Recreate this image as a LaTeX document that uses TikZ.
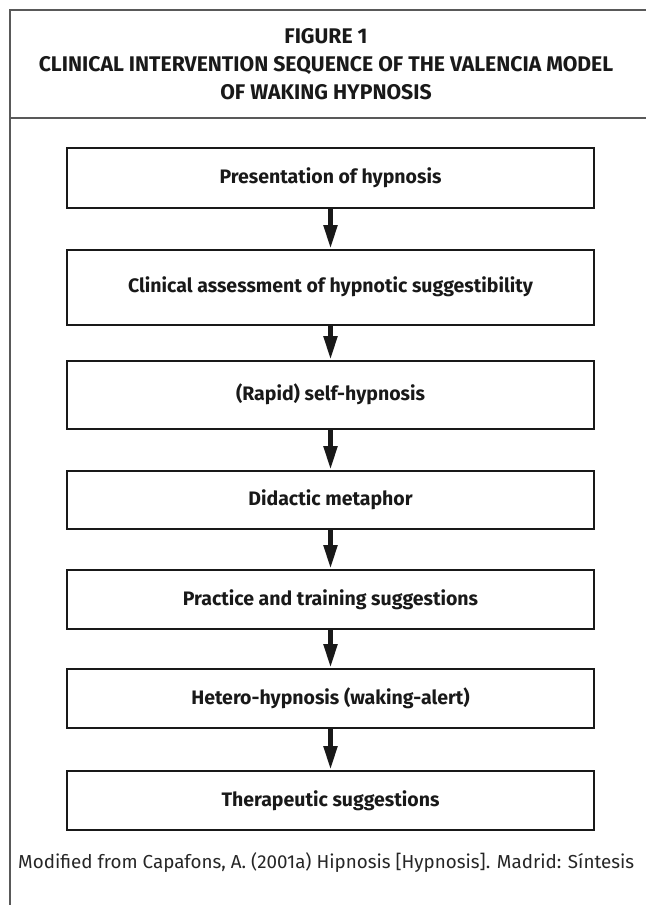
\documentclass[tikz,border=0pt]{standalone}
\usepackage{fontspec}
\setmainfont{Fira Sans}
\usetikzlibrary{arrows.meta}
\begin{document}
\begin{tikzpicture}[x=1pt,y=-1pt,
  stepbox/.style={draw=black!90,line width=1.5pt,minimum width=527pt,inner sep=0pt,
    font=\fontsize{19.5}{22}\selectfont\bfseries,anchor=north,text=black!90},
  flow/.style={draw=black!90,line width=5pt,-{Triangle[width=13pt,length=24pt]}},
  frameline/.style={draw=black!65,line width=1.6pt},
  titletext/.style={font=\fontsize{21.2}{28}\selectfont\bfseries,align=center,text=black!90},
  foottext/.style={font=\fontsize{18.8}{22}\selectfont,text=black!85}]
\useasboundingbox (0,0) rectangle (646,905);
% frame
\draw[frameline] (10,905) -- (10,10) -- (646,10);
\draw[frameline] (10,118) -- (646,118);
% title
\node[titletext] (title) at (326,64) {FIGURE 1\\CLINICAL INTERVENTION SEQUENCE OF THE VALENCIA MODEL\\OF WAKING HYPNOSIS};
% boxes
\node[stepbox,minimum height=60pt] (b1) at (330.5,147) {Presentation of hypnosis};
\node[stepbox,minimum height=75pt] (b2) at (330.5,249) {Clinical assessment of hypnotic suggestibility};
\node[stepbox,minimum height=68pt] (b3) at (330.5,360) {(Rapid) self-hypnosis};
\node[stepbox,minimum height=58pt] (b4) at (330.5,470) {Didactic metaphor};
\node[stepbox,minimum height=59pt] (b5) at (330.5,569) {Practice and training suggestions};
\node[stepbox,minimum height=59pt] (b6) at (330.5,668) {Hetero-hypnosis (waking-alert)};
\node[stepbox,minimum height=59pt] (b7) at (330.5,770) {Therapeutic suggestions};
% arrows
\draw[flow] (b1.south) -- (b2.north);
\draw[flow] (b2.south) -- (b3.north);
\draw[flow] (b3.south) -- (b4.north);
\draw[flow] (b4.south) -- (b5.north);
\draw[flow] (b5.south) -- (b6.north);
\draw[flow] (b6.south) -- (b7.north);
% footer
\node[foottext,anchor=base west,inner sep=0pt] (foot) at (18,868) {Modified from Capafons, A. (2001a) Hipnosis [Hypnosis]. Madrid: Síntesis};
\end{tikzpicture}
\end{document}
